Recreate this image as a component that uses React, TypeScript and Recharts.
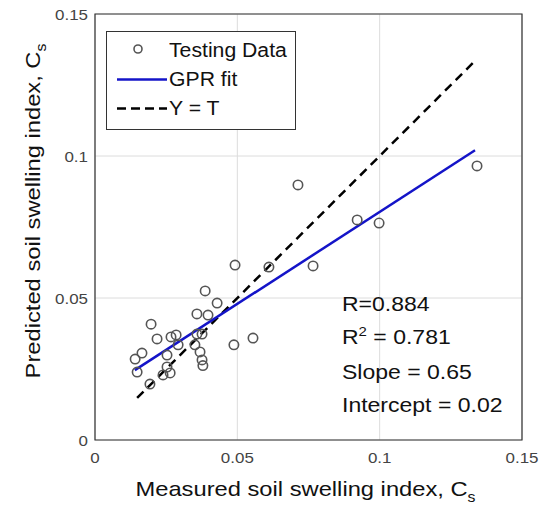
import React from 'react';
import { ScatterChart, Scatter, XAxis, YAxis, CartesianGrid, ReferenceArea, Legend } from 'recharts';

const measured = [
  0.1342, 0.0713, 0.0921, 0.0998, 0.0766, 0.0611, 0.0492, 0.0555, 0.0488, 0.0387, 0.0429,
  0.0358, 0.0397, 0.0197, 0.0218, 0.0267, 0.0285, 0.0292, 0.0358, 0.0376, 0.0351, 0.0369,
  0.0141, 0.0165, 0.0253, 0.0253, 0.0239, 0.0376, 0.0379, 0.0148, 0.0193, 0.0264,
];
const predicted = [
  0.0965, 0.0898, 0.0775, 0.0764, 0.0613, 0.0609, 0.0616, 0.0359, 0.0335, 0.0525, 0.0482,
  0.0444, 0.044, 0.0408, 0.0356, 0.0363, 0.037, 0.0335, 0.0373, 0.0373, 0.0335, 0.031,
  0.0285, 0.0306, 0.0299, 0.0257, 0.0229, 0.0282, 0.0262, 0.0239, 0.0197, 0.0236,
];
const fitX = [0.014, 0.1335];
const fitY = [0.0246, 0.102];
const refX = [0.0148, 0.134];
const refY = [0.0148, 0.134];
const axisTicks = [0, 0.05, 0.1, 0.15];
const tickLabels = ['0', '0.05', '0.1', '0.15'];
const statLines = ['R=0.884', 'R2 = 0.781', 'Slope = 0.65', 'Intercept = 0.02'];

const testing = measured.map((x, i) => ({ x, y: predicted[i] }));
const fitLine = fitX.map((x, i) => ({ x, y: fitY[i] }));
const refLine = refX.map((x, i) => ({ x, y: refY[i] }));

const FONT = '"Liberation Sans", Arial, Helvetica, sans-serif';
const STRETCH = 1.13;

const label = (v: number) => tickLabels[axisTicks.indexOf(v)] ?? String(v);

const XTick = (props: any) => (
  <text
    transform={`translate(${props.x},${props.y + 21}) scale(${STRETCH},1)`}
    textAnchor="middle"
    fontSize={15}
    fontFamily={FONT}
    fill="#444"
  >
    {label(props.payload.value)}
  </text>
);

const YTick = (props: any) => (
  <text
    transform={`translate(${props.x},${props.y + 6}) scale(${STRETCH},1)`}
    textAnchor="end"
    fontSize={15}
    fontFamily={FONT}
    fill="#444"
  >
    {label(props.payload.value)}
  </text>
);

const XTitle = (props: any) => {
  const vb = props.viewBox;
  return (
    <text
      transform={`translate(${vb.x + vb.width / 2 - 3},${vb.y + 56}) scale(${STRETCH},1)`}
      textAnchor="middle"
      fontSize={21}
      fontFamily={FONT}
      fill="#111"
    >
      Measured soil swelling index, C
      <tspan fontSize={14} dy={6}>s</tspan>
    </text>
  );
};

const YTitle = (props: any) => {
  const vb = props.viewBox;
  return (
    <text
      transform={`translate(40,${vb.y + vb.height / 2 - 16}) rotate(-90) scale(${STRETCH},1)`}
      textAnchor="middle"
      fontSize={21}
      fontFamily={FONT}
      fill="#111"
    >
      Predicted soil swelling index, C
      <tspan fontSize={14} dy={6}>s</tspan>
    </text>
  );
};

const OpenCircle = (props: any) => (
  <circle cx={props.cx} cy={props.cy} r={4.7} fill="none" stroke="#555" strokeWidth={1.6} />
);

const NoDot = () => <g />;

const legendRows = [
  { name: 'Testing Data', kind: 'dot' },
  { name: 'GPR fit', kind: 'line' },
  { name: 'Y = T', kind: 'dash' },
];

const LegendBox = () => (
  <div
    style={{
      border: '1px solid #333',
      background: '#fff',
      width: 188,
      height: 93,
      paddingTop: 4,
      boxSizing: 'content-box',
      fontFamily: FONT,
      fontSize: 20,
      color: '#111',
    }}
  >
    {legendRows.map((r) => (
      <div key={r.name} style={{ display: 'flex', alignItems: 'center', height: 29 }}>
        <svg width={62} height={29} style={{ flex: 'none' }}>
          {r.kind === 'dot' && <circle cx={31} cy={13} r={4} fill="none" stroke="#555" strokeWidth={1.6} />}
          {r.kind === 'line' && <line x1={10} x2={60} y1={14.5} y2={14.5} stroke="#1414c8" strokeWidth={2.5} />}
          {r.kind === 'dash' && (
            <line x1={10} x2={60} y1={14.5} y2={14.5} stroke="#000" strokeWidth={2.5} strokeDasharray="9 5" />
          )}
        </svg>
        <span style={{ display: 'inline-block', transform: 'scaleX(1.06)', transformOrigin: 'left center' }}>
          {r.name}
        </span>
      </div>
    ))}
  </div>
);

export default function App() {
  return (
    <div style={{ position: 'absolute', left: 0, top: 0, width: 544, height: 509, background: '#fff' }}>
      <ScatterChart width={544} height={509} margin={{ top: 14, right: 22, bottom: 0, left: 0 }}>
        <CartesianGrid stroke="#dcdcdc" strokeWidth={1} />
        <XAxis
          type="number"
          dataKey="x"
          domain={[0, 0.15]}
          ticks={axisTicks}
          height={69}
          axisLine={false}
          tickLine={false}
          tickSize={0}
          tick={<XTick />}
          label={{ content: <XTitle /> }}
        />
        <YAxis
          type="number"
          dataKey="y"
          domain={[0, 0.15]}
          ticks={axisTicks}
          width={95}
          axisLine={false}
          tickLine={false}
          tickSize={0}
          tickMargin={7}
          tick={<YTick />}
          label={{ content: <YTitle /> }}
        />
        <ReferenceArea
          x1={0}
          x2={0.15}
          y1={0}
          y2={0.15}
          fill="none"
          fillOpacity={0}
          stroke="#333"
          strokeWidth={1.2}
          ifOverflow="visible"
        />
        <Scatter
          name="Y = T"
          data={refLine}
          line={{ stroke: '#000', strokeWidth: 2.5, strokeDasharray: '9 6' }}
          shape={<NoDot />}
          isAnimationActive={false}
        />
        <Scatter
          name="GPR fit"
          data={fitLine}
          line={{ stroke: '#1414c8', strokeWidth: 2.5 }}
          shape={<NoDot />}
          isAnimationActive={false}
        />
        <Scatter name="Testing Data" data={testing} shape={<OpenCircle />} isAnimationActive={false} />
        <Legend
          layout="vertical"
          align="center"
          verticalAlign="middle"
          content={<LegendBox />}
          wrapperStyle={{ position: 'absolute', left: 106, top: 31, width: 190, height: 98 }}
        />
      </ScatterChart>
      <div
        style={{
          position: 'absolute',
          left: 342,
          top: 288,
          fontFamily: FONT,
          fontSize: 20,
          lineHeight: '33px',
          color: '#111',
          transform: 'scaleX(1.15)',
          transformOrigin: 'left top',
          whiteSpace: 'nowrap',
        }}
      >
        {statLines.map((s) => (
          <div key={s}>
            {s.startsWith('R2') ? (
              <>
                R<span style={{ fontSize: 13, position: 'relative', top: -8 }}>2</span>
                {s.slice(2)}
              </>
            ) : (
              s
            )}
          </div>
        ))}
      </div>
    </div>
  );
}
